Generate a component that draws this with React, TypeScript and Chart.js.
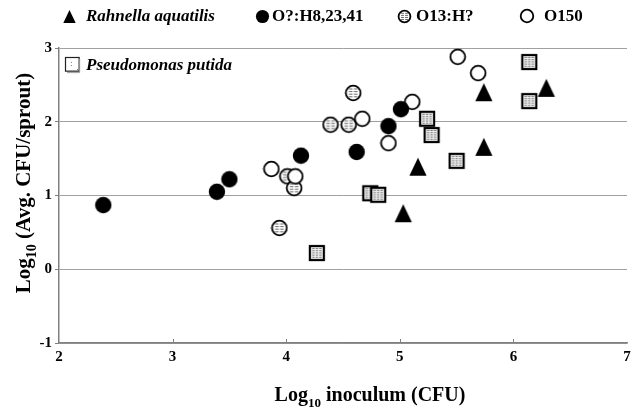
import React, { useEffect, useRef } from "react";
import { Chart, registerables } from "chart.js";

Chart.register(...registerables);

// Log10 inoculum (x) and Log10 average CFU per sprout (y) for each isolate group
const rahnellaX = [5.16, 5.03, 5.74, 5.74, 6.29];
const rahnellaY = [1.39, 0.76, 2.4, 1.66, 2.46];
const oH8X = [2.39, 3.39, 3.5, 4.13, 4.62, 4.9, 5.01];
const oH8Y = [0.87, 1.05, 1.22, 1.54, 1.59, 1.94, 2.17];
const o13X = [3.94, 4.01, 4.07, 4.39, 4.55, 4.59];
const o13Y = [0.56, 1.26, 1.1, 1.96, 1.96, 2.39];
const o150X = [3.87, 4.08, 4.67, 4.9, 5.11, 5.51, 5.69];
const o150Y = [1.36, 1.26, 2.04, 1.71, 2.27, 2.88, 2.66];
const putidaX = [4.27, 4.74, 4.81, 5.24, 5.28, 5.5, 6.14, 6.14, 6.49];
const putidaY = [0.22, 1.03, 1.01, 2.04, 1.82, 1.47, 2.81, 2.28, 3.07];

const xTicks = [2, 3, 4, 5, 6, 7];
const yTicks = [-1, 0, 1, 2, 3];

const seriesNames = [
  "Rahnella aquatilis",
  "O?:H8,23,41",
  "O13:H?",
  "O150",
  "Pseudomonas putida",
];

const SERIF = "'Liberation Serif', 'Times New Roman', serif";

type Kind = "triangle" | "dot" | "ring" | "hatchRing" | "hatchSquare" | "plainSquare";

// Builds a marker bitmap; k scales the whole glyph
function makeMarker(kind: Kind, k = 1): HTMLCanvasElement {
  const c = document.createElement("canvas");
  const s = Math.ceil((kind === "triangle" ? 20 : 18) * k);
  c.width = s;
  c.height = s;
  const ctx = c.getContext("2d")!;
  const m = s / 2;
  if (kind === "triangle") {
    const hw = 8.6 * k;
    const hh = 9 * k;
    ctx.beginPath();
    ctx.moveTo(m, m - hh);
    ctx.lineTo(m + hw, m + hh);
    ctx.lineTo(m - hw, m + hh);
    ctx.closePath();
    ctx.fillStyle = "#000";
    ctx.fill();
  } else if (kind === "dot") {
    ctx.beginPath();
    ctx.arc(m, m, 8.2 * k, 0, Math.PI * 2);
    ctx.fillStyle = "#000";
    ctx.fill();
  } else if (kind === "ring" || kind === "hatchRing") {
    const r = 7.4 * k;
    ctx.beginPath();
    ctx.arc(m, m, r, 0, Math.PI * 2);
    ctx.fillStyle = "#fff";
    ctx.fill();
    if (kind === "hatchRing") {
      ctx.strokeStyle = "#6a6a6a";
      ctx.lineWidth = 1;
      for (let dy = -4; dy <= 4.1; dy += 2.6) {
        for (const dx of [-2.5, 2.5]) {
          ctx.beginPath();
          ctx.moveTo(m + (dx - 1.8) * k, m + dy * k);
          ctx.lineTo(m + (dx + 1.8) * k, m + dy * k);
          ctx.stroke();
        }
      }
    }
    ctx.beginPath();
    ctx.arc(m, m, r, 0, Math.PI * 2);
    ctx.strokeStyle = "#000";
    ctx.lineWidth = 1.8;
    ctx.stroke();
  } else if (kind === "hatchSquare") {
    const a = m - 7 * k;
    const w = 14 * k;
    ctx.fillStyle = "#f4f4f4";
    ctx.fillRect(a, a, w, w);
    ctx.strokeStyle = "#777";
    ctx.lineWidth = 1;
    for (let r = 4.5; r <= 14; r += 2.2) {
      for (const cx of [5.5, 9, 12.5]) {
        ctx.beginPath();
        ctx.moveTo((cx - 1.2) * k, r * k);
        ctx.lineTo((cx + 1.2) * k, r * k);
        ctx.stroke();
      }
    }
    ctx.strokeStyle = "#000";
    ctx.lineWidth = 2.2;
    ctx.strokeRect(a, a, w, w);
  } else {
    ctx.fillStyle = "#fff";
    ctx.fillRect(2, 2, 13 * k, 13 * k);
    ctx.fillStyle = "#888";
    ctx.fillRect(Math.round(7 * k), Math.round(6 * k), 1, 1);
    ctx.fillRect(Math.round(7 * k), Math.round(9 * k), 1, 1);
    ctx.fillRect(Math.round(12 * k), Math.round(12 * k), 1, 1);
    ctx.strokeStyle = "#222";
    ctx.lineWidth = 1.2;
    ctx.strokeRect(1.5, 1.5, 13 * k, 13 * k);
    ctx.strokeStyle = "#999";
    ctx.lineWidth = 1;
    ctx.beginPath();
    ctx.moveTo(2 + 13 * k, 3);
    ctx.lineTo(2 + 13 * k, 3 + 13 * k);
    ctx.lineTo(3, 3 + 13 * k);
    ctx.stroke();
  }
  return c;
}

type Part = { t: string; sub?: boolean };

function drawParts(ctx: CanvasRenderingContext2D, parts: Part[], cx: number, cy: number, size: number) {
  const main = `bold ${size}px ${SERIF}`;
  const small = `bold ${Math.round(size * 0.65)}px ${SERIF}`;
  let total = 0;
  for (const p of parts) {
    ctx.font = p.sub ? small : main;
    total += ctx.measureText(p.t).width;
  }
  let x = cx - total / 2;
  ctx.textAlign = "left";
  ctx.textBaseline = "alphabetic";
  for (const p of parts) {
    ctx.font = p.sub ? small : main;
    ctx.fillText(p.t, x, p.sub ? cy + size * 0.3 : cy);
    x += ctx.measureText(p.t).width;
  }
}

export default function App() {
  const ref = useRef<HTMLCanvasElement | null>(null);

  useEffect(() => {
    if (!ref.current) return;
    const mk = {
      triangle: makeMarker("triangle"),
      dot: makeMarker("dot"),
      ring: makeMarker("ring"),
      hatchRing: makeMarker("hatchRing"),
      hatchSquare: makeMarker("hatchSquare"),
      plainSquare: makeMarker("plainSquare"),
    };
    const key = {
      triangle: makeMarker("triangle", 0.72),
      dot: makeMarker("dot", 0.8),
      ring: makeMarker("ring", 0.85),
      hatchRing: makeMarker("hatchRing", 0.8),
      plainSquare: makeMarker("plainSquare", 1.05),
    };

    const pts = (xs: number[], ys: number[]) => xs.map((x, i) => ({ x, y: ys[i] }));

    const decorations = {
      id: "decorations",
      afterDraw(chart: any) {
        const ctx: CanvasRenderingContext2D = chart.ctx;
        const xs = chart.scales.x;
        const area = chart.chartArea;
        ctx.save();
        // small inward tick marks on the x axis
        ctx.strokeStyle = "#808080";
        ctx.lineWidth = 1;
        for (const v of xTicks.slice(1, -1)) {
          const px = Math.round(xs.getPixelForValue(v)) + 0.5;
          ctx.beginPath();
          ctx.moveTo(px, area.bottom);
          ctx.lineTo(px, area.bottom - 4);
          ctx.stroke();
        }
        ctx.fillStyle = "#000";
        // axis titles
        drawParts(ctx, [{ t: "Log" }, { t: "10", sub: true }, { t: " inoculum (CFU)" }], 370, 401, 20);
        ctx.save();
        ctx.translate(30, 183);
        ctx.rotate(-Math.PI / 2);
        drawParts(ctx, [{ t: "Log" }, { t: "10", sub: true }, { t: " (Avg. CFU/sprout)" }], 0, 0, 21);
        ctx.restore();
        // legend
        const entries: [HTMLCanvasElement, number, number, number, string, boolean][] = [
          [key.triangle, 69, 16, 86, seriesNames[0], true],
          [key.dot, 262, 16, 272, seriesNames[1], false],
          [key.hatchRing, 404, 16, 416, seriesNames[2], false],
          [key.ring, 527, 16, 544, seriesNames[3], false],
          [key.plainSquare, 73, 65, 86, seriesNames[4], true],
        ];
        ctx.textBaseline = "middle";
        ctx.textAlign = "left";
        for (const [img, x, y, tx, label, italic] of entries) {
          ctx.drawImage(img, Math.round(x - img.width / 2), Math.round(y - img.height / 2));
          ctx.font = `${italic ? "italic " : ""}bold 17px ${SERIF}`;
          ctx.fillText(label, tx, y + 1);
        }
        ctx.restore();
      },
    };

    const chart = new Chart(ref.current, {
      type: "scatter",
      data: {
        datasets: [
          {
            label: seriesNames[0],
            data: pts(rahnellaX, rahnellaY),
            pointStyle: mk.triangle,
            order: 0,
          },
          {
            label: seriesNames[1],
            data: pts(oH8X, oH8Y),
            pointStyle: mk.dot,
            order: 1,
          },
          {
            label: seriesNames[2],
            data: pts(o13X, o13Y),
            pointStyle: mk.hatchRing,
            order: 3,
          },
          {
            label: seriesNames[3],
            data: pts(o150X, o150Y),
            pointStyle: mk.ring,
            order: 2,
          },
          {
            label: seriesNames[4],
            data: pts(putidaX, putidaY),
            pointStyle: putidaX.map((_, i) => (i === putidaX.length - 1 ? mk.plainSquare : mk.hatchSquare)),
            order: 4,
          },
        ] as any,
      },
      options: {
        animation: false,
        responsive: true,
        maintainAspectRatio: false,
        clip: false as any,
        layout: { padding: { top: 48, right: 15, left: 0, bottom: 0 } },
        plugins: { legend: { display: false }, tooltip: { enabled: false } },
        scales: {
          x: {
            type: "linear",
            min: xTicks[0],
            max: xTicks[xTicks.length - 1],
            afterBuildTicks: (s: any) => {
              s.ticks = xTicks.map((v) => ({ value: v }));
            },
            afterFit: (s: any) => {
              s.height = 67;
            },
            grid: { display: true, drawOnChartArea: false, drawTicks: false },
            border: { display: true, color: "#808080", width: 1.5 },
            ticks: {
              padding: 5,
              color: "#000",
              font: { family: SERIF, size: 15, weight: "bold" },
            },
          },
          y: {
            type: "linear",
            min: yTicks[0],
            max: yTicks[yTicks.length - 1],
            afterBuildTicks: (s: any) => {
              s.ticks = yTicks.map((v) => ({ value: v }));
            },
            afterFit: (s: any) => {
              s.width = 59;
            },
            grid: {
              color: "#a0a0a0",
              lineWidth: 1,
              drawTicks: true,
              tickLength: 4,
              tickColor: "#808080",
            },
            border: { display: true, color: "#808080", width: 1.5 },
            ticks: {
              padding: 3,
              color: "#000",
              font: { family: SERIF, size: 15, weight: "bold" },
            },
          },
        },
      } as any,
      plugins: [decorations],
    });
    return () => chart.destroy();
  }, []);

  return (
    <div style={{ position: "fixed", left: 0, top: 0, width: 642, height: 410, background: "#fff" }}>
      <canvas ref={ref} />
    </div>
  );
}
